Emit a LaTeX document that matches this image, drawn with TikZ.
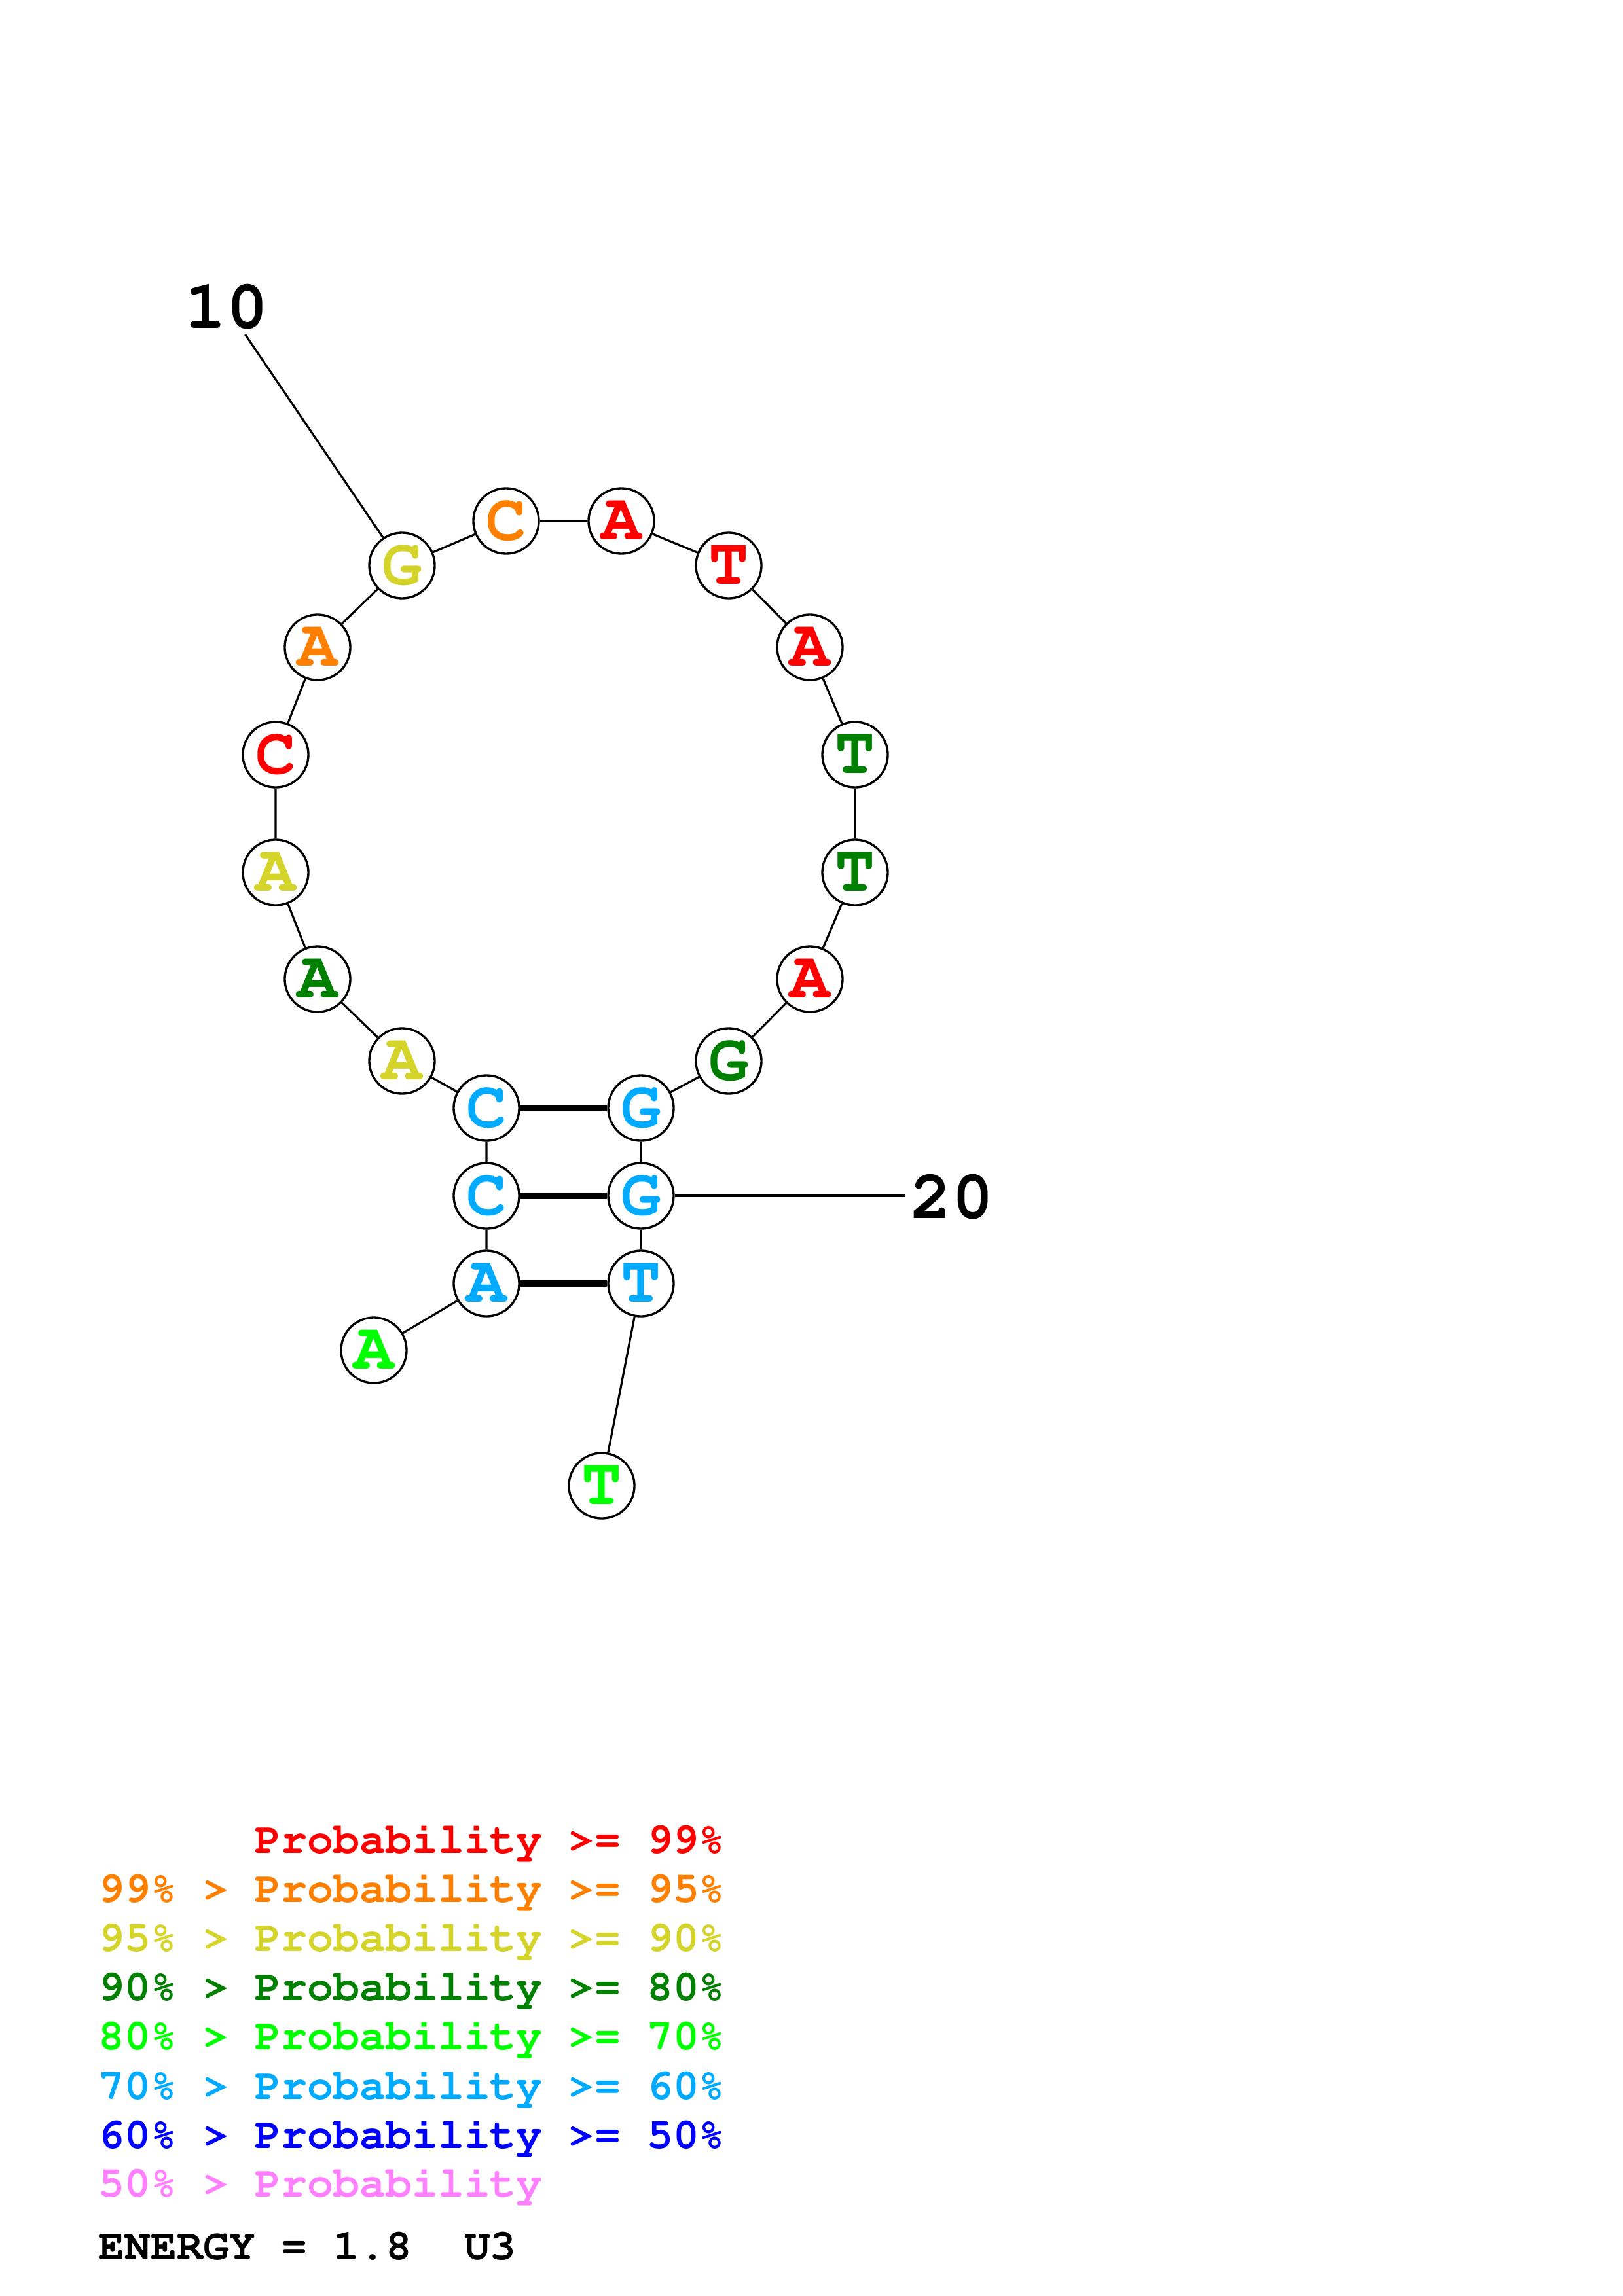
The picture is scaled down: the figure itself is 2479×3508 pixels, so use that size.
\documentclass[tikz,border=0pt]{standalone}
\usepackage[T1]{fontenc}

\newcommand{\courb}{\fontfamily{pcr}\fontseries{b}\selectfont}

\definecolor{pa}{RGB}{255,0,0}
\definecolor{pb}{RGB}{255,128,0}
\definecolor{pc}{RGB}{212,212,42}
\definecolor{pd}{RGB}{0,128,0}
\definecolor{pe}{RGB}{0,255,0}
\definecolor{pf}{RGB}{0,170,255}
\definecolor{pg}{RGB}{0,0,255}
\definecolor{ph}{RGB}{255,128,255}

\begin{document}
\begin{tikzpicture}[x=0.01cm, y=-0.01cm,
    base/.style={circle, draw, fill=white, line width=0.95pt, minimum size=1cm,
      inner sep=0pt, font=\courb\fontsize{29}{29}\selectfont},
    link/.style={line width=0.9pt},
    pair/.style={line width=2.6pt},
    num/.style={inner sep=2pt, font=\courb\fontsize{30}{30}\selectfont},
    legend/.style={anchor=base west, inner sep=0pt, font=\courb\fontsize{18.9}{18.9}\selectfont}]
  \useasboundingbox (0,0) rectangle (2479,3508);

  % Bases
  \node[base, text=pe] (n1)  at (571,2063) {A};
  \node[base, text=pf] (n2)  at (743,1961) {A};
  \node[base, text=pf] (n3)  at (743,1827) {C};
  \node[base, text=pf] (n4)  at (743,1693) {C};
  \node[base, text=pc] (n5)  at (614,1621) {A};
  \node[base, text=pd] (n6)  at (485,1496) {A};
  \node[base, text=pc] (n7)  at (421,1333) {A};
  \node[base, text=pa] (n8)  at (421,1153) {C};
  \node[base, text=pb] (n9)  at (485,989)  {A};
  \node[base, text=pc] (n10) at (614,864)  {G};
  \node[base, text=pb] (n11) at (773,796)  {C};
  \node[base, text=pa] (n12) at (949,796)  {A};
  \node[base, text=pa] (n13) at (1113,864) {T};
  \node[base, text=pa] (n14) at (1237,989) {A};
  \node[base, text=pd] (n15) at (1306,1153) {T};
  \node[base, text=pd] (n16) at (1306,1333) {T};
  \node[base, text=pa] (n17) at (1237,1496) {A};
  \node[base, text=pd] (n18) at (1113,1621) {G};
  \node[base, text=pf] (n19) at (979,1693) {G};
  \node[base, text=pf] (n20) at (979,1827) {G};
  \node[base, text=pf] (n21) at (979,1961) {T};
  \node[base, text=pe] (n22) at (919,2270) {T};

  % Backbone
  \draw[link] (n1) -- (n2) -- (n3) -- (n4) -- (n5) -- (n6) -- (n7) -- (n8)
    -- (n9) -- (n10) -- (n11) -- (n12) -- (n13) -- (n14) -- (n15) -- (n16)
    -- (n17) -- (n18) -- (n19) -- (n20) -- (n21) -- (n22);

  % Pairs
  \draw[pair] (n4) -- (n19);
  \draw[pair] (n3) -- (n20);
  \draw[pair] (n2) -- (n21);

  % Numbering
  \node[num] (l10) at (346,469) {10};
  \node[num, anchor=west] (l20) at (1383,1829) {20};
  \draw[link] (l10) -- (n10);
  \draw[link] (n20) -- (n20 -| l20.west);

  % Legend
  \node[legend, text=pa] (leg1) at (150,2831) {\phantom{99\% > }Probability >= 99\%};
  \node[legend, text=pb] (leg2) at (150,2906) {99\% > Probability >= 95\%};
  \node[legend, text=pc] (leg3) at (150,2981) {95\% > Probability >= 90\%};
  \node[legend, text=pd] (leg4) at (150,3056) {90\% > Probability >= 80\%};
  \node[legend, text=pe] (leg5) at (150,3131) {80\% > Probability >= 70\%};
  \node[legend, text=pf] (leg6) at (150,3207) {70\% > Probability >= 60\%};
  \node[legend, text=pg] (leg7) at (150,3282) {60\% > Probability >= 50\%};
  \node[legend, text=ph] (leg8) at (150,3356) {50\% > Probability};
  \node[legend] (energy) at (150,3452) {ENERGY = 1.8~~U3};
\end{tikzpicture}
\end{document}
